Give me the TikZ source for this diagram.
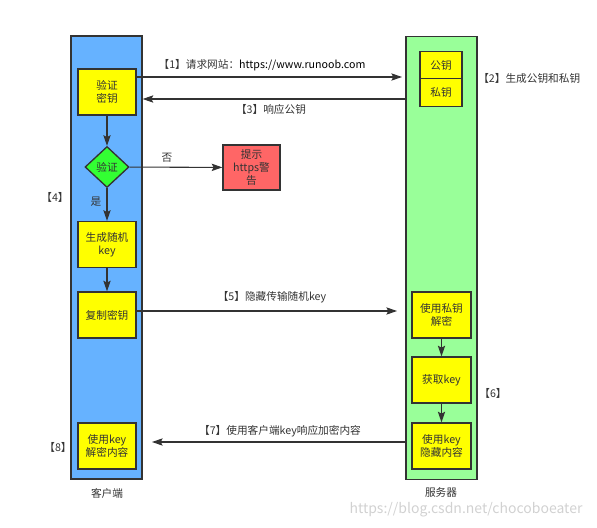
\documentclass[tikz,border=0pt]{standalone}
\usepackage{fontspec}
\setmainfont{Noto Sans CJK SC}
\usetikzlibrary{shapes.geometric,arrows.meta}
\definecolor{linec}{HTML}{333333}
\definecolor{clientblue}{HTML}{66B2FF}
\definecolor{servergreen}{HTML}{99FF99}
\definecolor{boxyellow}{HTML}{FFFF00}
\definecolor{diagreen}{HTML}{33FF33}
\definecolor{warnred}{HTML}{FF6666}
\begin{document}
\begin{tikzpicture}[x=0.75pt,y=-0.75pt,
  every node/.style={font=\fontsize{8pt}{10pt}\selectfont, text=linec},
  col/.style={draw=linec, line width=1pt, inner sep=0pt, minimum width=53.25pt, minimum height=332.25pt},
  ybox/.style={draw=linec, fill=boxyellow, line width=1pt, align=center, inner sep=1pt, minimum width=43.5pt, minimum height=34.5pt},
  kbox/.style={draw=linec, fill=boxyellow, line width=1pt, inner sep=1pt, minimum width=31.5pt, minimum height=20.6pt},
  arr/.style={draw=linec, line width=0.8pt, -{Stealth[length=8pt,width=5.5pt,inset=1.5pt]}},
  lbl/.style={inner sep=0pt}
]
\useasboundingbox (0,0) rectangle (597,528);
% columns
\node[col, fill=clientblue] (client) at (106.5,257.5) {};
\node[col, fill=servergreen] (server) at (441.5,258) {};
% client side
\node[ybox] (verify) at (107,92) {验证\\密钥};
\node[diamond, draw=linec, fill=diagreen, line width=1pt, inner sep=0pt, minimum width=33pt, minimum height=30.75pt] (dia) at (107,167) {验证};
\node[ybox, fill=warnred, minimum width=42.75pt, minimum height=33.75pt, align=center] (warn) at (251.5,167.5) {提示\\https警\\告};
\node[ybox] (gen) at (107,244.5) {生成随机\\key};
\node[ybox] (copy) at (107,315) {复制密钥};
\node[ybox] (cdec) at (107,446) {使用key\\解密内容};
% server side
\node[kbox] (pub) at (441,65) {公钥};
\node[kbox] (priv) at (441,92.5) {私钥};
\node[ybox, minimum width=44.25pt] (sdec) at (441.5,315) {使用私钥\\解密};
\node[ybox, minimum width=44.25pt] (getk) at (441.5,380) {获取key};
\node[ybox, minimum width=44.25pt] (hide) at (441.5,446) {使用key\\隐藏内容};
% free ends
\coordinate (t1) at (402,77);
\coordinate (t5) at (397,311);
\coordinate (t7) at (152,442);
% connectors
\draw[arr] (verify.east |- 0,77) -- (t1);
\draw[arr] (server.west |- 0,99) -- (client.east |- 0,99);
\draw[arr] (verify) -- (dia);
\draw[arr] (dia) -- (warn);
\draw[arr] (dia) -- (gen);
\draw[arr] (gen) -- (copy);
\draw[arr] (copy.east |- 0,311) -- (t5);
\draw[arr] (sdec) -- (getk);
\draw[arr] (getk) -- (hide);
\draw[arr] (server.west |- 0,442) -- (t7);
% labels
\node[lbl] (l1) at (262,65) {【1】请求网站：{\color{black}https://www.runoob.com}};
\node[lbl] (l3) at (271,109) {【3】响应公钥};
\node[lbl, anchor=west] (l2) at (478,78) {【2】生成公钥和私钥};
\node[lbl] (l4) at (55,197) {【4】};
\node[lbl] (no) at (167,158) {否};
\node[lbl] (yes) at (96,202) {是};
\node[lbl] (l5) at (272,297) {【5】隐藏传输随机key};
\node[lbl] (l6) at (493,393) {【6】};
\node[lbl] (l7) at (280,431) {【7】使用客户端key响应加密内容};
\node[lbl] (l8) at (58,447) {【8】};
\node[lbl] (cl) at (107,493) {客户端};
\node[lbl] (sl) at (441,492) {服务器};
\node[lbl, text=black!18, font=\fontsize{10.5pt}{12pt}\selectfont] (wm) at (466,510) {https://blog.csdn.net/chocoboeater};
\end{tikzpicture}
\end{document}
